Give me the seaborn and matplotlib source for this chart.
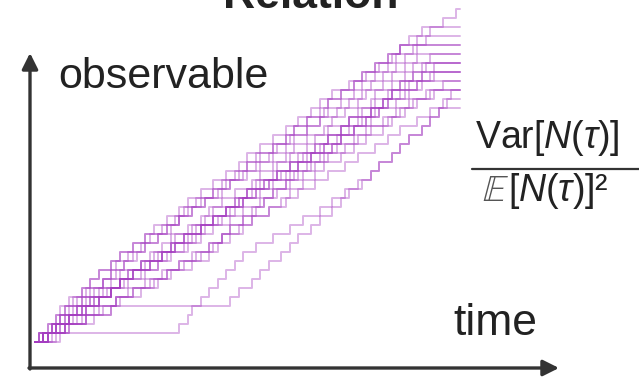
import numpy as np
import pandas as pd
import matplotlib
matplotlib.use("Agg")
import matplotlib.pyplot as plt
from matplotlib.lines import Line2D
import seaborn as sns

sns.set_theme(style="white")
plt.rcParams["font.family"] = ["Liberation Sans", "DejaVu Sans"]
plt.rcParams["mathtext.fontset"] = "custom"
plt.rcParams["mathtext.rm"] = "Liberation Sans"
plt.rcParams["mathtext.it"] = "Liberation Sans:italic"

# ---- data: waiting times between successive counts (time ticks) ----
T_END = 100
traj_a = [2, 2, 1, 2, 2, 2, 2, 2, 3, 2, 3, 3, 2, 3, 3, 2, 3, 3, 3, 3, 2, 3, 3, 3, 3,
          3, 2, 3, 4, 3, 3, 3, 3, 4, 3, 3, 3]
traj_b = [6, 28, 2, 1, 2, 2, 2, 2, 2, 2, 3, 4, 4, 3, 4, 3, 3, 3, 3, 2, 3, 2, 2, 3, 2, 2]
traj_c = [3, 4, 5, 6, 28, 2, 3, 2, 2, 3, 2, 2, 3, 2, 3, 2, 2, 3, 2, 2, 3, 2, 2, 3, 2,
          2, 2, 1]
traj_d = [1, 3, 2, 2, 3, 2, 3, 2, 3, 3, 2, 3, 3, 2, 3, 3, 4, 2, 3, 3, 3, 2, 3, 4, 3,
          2, 3, 3, 2, 3, 3, 2, 4, 3]
traj_e = [2, 4, 3, 2, 3, 4, 2, 3, 3, 4, 3, 2, 4, 3, 3, 2, 4, 3, 3, 3, 4, 3, 2, 3, 4,
          3, 3, 2, 4, 3, 3]
traj_f = [3, 5, 4, 3, 4, 3, 5, 4, 3, 4, 3, 3, 2, 3, 3, 2, 3, 3, 2, 3, 2, 3, 2, 2, 3,
          2, 3, 2, 2, 3, 2, 2]
traj_g = [2, 3, 3, 4, 3, 3, 4, 3, 4, 3, 4, 3, 3, 4, 3, 4, 3, 3, 4, 3, 3, 4, 3, 3, 4,
          3, 3, 4, 3]
traj_h = [1, 2, 2, 1, 2, 3, 2, 2, 3, 2, 3, 3, 4, 3, 3, 4, 3, 3, 4, 3, 3, 3, 2, 3, 3,
          4, 3, 3, 2, 3, 3, 2, 3]
traj_i = [3, 2, 3, 3, 4, 3, 2, 3, 4, 3, 3, 4, 2, 3, 3, 3, 4, 3, 3, 4, 3, 3, 3, 4, 3,
          3, 2, 3, 4, 3]
traj_j = [4, 3, 5, 4, 3, 4, 5, 3, 4, 4, 3, 2, 2, 3, 2, 3, 2, 3, 2, 3, 4, 3, 4, 3, 4,
          3, 3, 4]
traj_k = [2, 2, 3, 2, 2, 3, 2, 3, 2, 2, 3, 3, 2, 3, 3, 2, 3, 3, 3, 2, 3, 3, 3, 2, 3,
          3, 2, 3, 3, 3, 2, 3, 3, 2, 3]
traj_l = [3, 3, 2, 4, 3, 3, 3, 2, 4, 3, 3, 3, 3, 4, 3, 3, 3, 3, 4, 3, 3, 3, 4, 3, 3,
          3, 4, 3, 3, 3]
traj_m = [3, 4, 4, 3, 5, 4, 3, 4, 4, 3, 4, 3, 4, 3, 4, 4, 3, 4, 3, 4, 3, 4, 3, 3, 4,
          3, 3]
traj_n = [2, 3, 3, 2, 4, 3, 3, 2, 3, 3, 4, 3, 3, 4, 3, 3, 2, 4, 3, 3, 3, 3, 3, 3, 2,
          3, 3, 3, 3, 3, 3]
traj_o = [1, 4, 2, 5, 1, 3, 4, 2, 3, 5, 2, 1, 4, 3, 2, 5, 3, 2, 4, 1, 3, 4, 2, 3, 5,
          2, 3, 1, 4, 3, 2]
traj_p = [2, 5, 3, 1, 4, 3, 2, 6, 3, 2, 4, 3, 1, 5, 3, 2, 4, 3, 4, 2, 3, 5, 2, 3, 4,
          1, 3, 4, 3]
traj_q = [1, 2, 3, 1, 3, 2, 4, 2, 1, 3, 3, 2, 4, 3, 1, 3, 4, 2, 3, 3, 2, 4, 3, 2, 3,
          4, 1, 3, 3, 2, 4, 3, 2]
traj_r = [3, 1, 4, 2, 3, 5, 2, 3, 4, 2, 3, 3, 5, 2, 3, 4, 1, 3, 4, 3, 2, 4, 3, 3, 2,
          5, 3, 2, 3, 4]
traj_s = [2, 3, 1, 4, 2, 3, 3, 2, 5, 2, 3, 2, 4, 3, 2, 3, 3, 4, 2, 3, 3, 2, 3, 4, 2,
          3, 3, 2, 4, 2, 3, 3]
traj_t = [5, 3, 6, 4, 2, 5, 4, 3, 5, 4, 2, 3, 3, 2, 4, 3, 2, 3, 3, 2, 4, 3, 3, 4, 2,
          3, 3, 4]
trajectories = [traj_a, traj_b, traj_c, traj_d, traj_e, traj_f, traj_g,
                traj_h, traj_i, traj_j, traj_k, traj_l, traj_m, traj_n,
                traj_o, traj_p, traj_q, traj_r, traj_s, traj_t]

rows = []
for k, gaps in enumerate(trajectories):
    jumps = np.cumsum(gaps)
    jumps = jumps[jumps <= T_END]
    t = np.concatenate([[0], jumps, [T_END]])
    n = np.concatenate([np.arange(len(jumps) + 1), [len(jumps)]])
    for ti, ni in zip(t, n):
        rows.append((k, float(ti), float(ni)))
df = pd.DataFrame(rows, columns=["traj", "t", "N"])

# ---- figure ----
W, H = 639, 377
fig = plt.figure(figsize=(W / 100, H / 100), dpi=100)
ax = fig.add_axes([0, 0, 1, 1])
px_t, x0 = 4.25, 35      # pixels per time tick, origin x
px_n, y0 = 9.0, 342      # pixels per count, origin y (from top)
ax.set_xlim(-x0 / px_t, (W - x0) / px_t)
ax.set_ylim(-(H - y0) / px_n, y0 / px_n)

sns.lineplot(data=df, x="t", y="N", units="traj", estimator=None, sort=False,
             drawstyle="steps-post", color="#a43cc0", alpha=0.38, lw=1.4,
             ax=ax, legend=False)
ax.axis("off")

def fx(x):
    return x / W

def fy(y):
    return (H - y) / H

arrow = dict(arrowstyle="-|>", color="#333333", lw=2.4, mutation_scale=24,
             shrinkA=0, shrinkB=0)
ax.annotate("", xy=(fx(30), fy(53)), xytext=(fx(30), fy(369)),
            xycoords="axes fraction", textcoords="axes fraction", arrowprops=arrow)
ax.annotate("", xy=(fx(559), fy(368)), xytext=(fx(29), fy(368)),
            xycoords="axes fraction", textcoords="axes fraction", arrowprops=arrow)

txt = "#222222"
fig.text(fx(311), fy(8), "Relation", fontsize=32, fontweight="bold",
         ha="center", va="baseline", color=txt)
fig.text(fx(58), fy(88), "observable", fontsize=31, ha="left", va="baseline",
         color=txt)
fig.text(fx(453), fy(335), "time", fontsize=32, ha="left", va="baseline",
         color=txt)
fig.text(fx(475), fy(148), r"Var[$N(\tau)$]", fontsize=27, ha="left",
         va="baseline", color=txt)
fig.add_artist(Line2D([fx(472), 1.0], [fy(169), fy(169)], color="#333333",
                      lw=1.6))
fig.text(fx(482), fy(201), r"$\mathbb{E}$", fontsize=27, ha="left",
         va="baseline", color="#555555", math_fontfamily="stix")
fig.text(fx(508), fy(201), r"[$N(\tau)$]²", fontsize=27, ha="left",
         va="baseline", color=txt)

fig.savefig("out.png", dpi=100)
